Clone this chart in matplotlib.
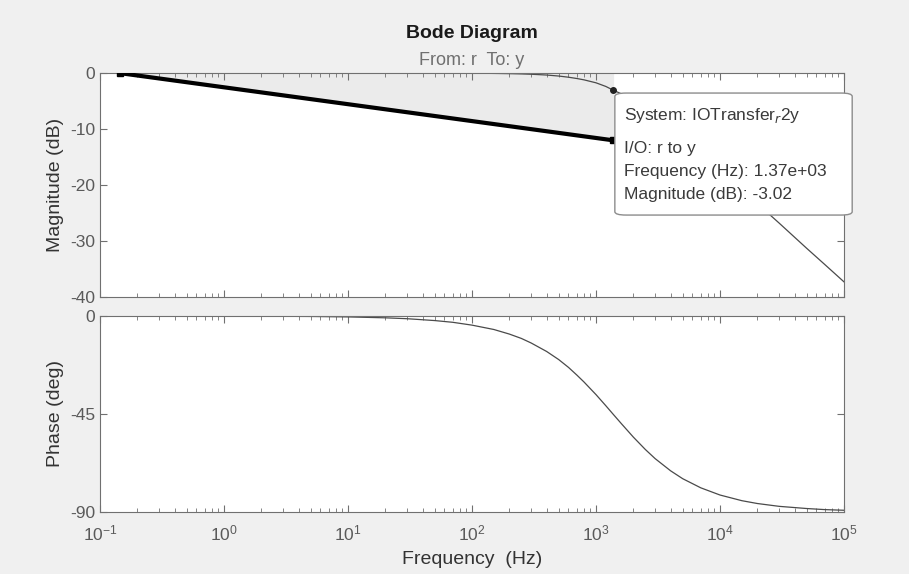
import matplotlib.pyplot as plt
from matplotlib.patches import FancyBboxPatch
from matplotlib.ticker import NullFormatter, FixedLocator

plt.rcParams['font.family'] = ['Liberation Sans', 'DejaVu Sans']
plt.rcParams['axes.unicode_minus'] = False

# frequency response
freq = [0.1, 1, 5, 10, 20, 30, 50, 70, 100, 150, 200, 250, 300, 400, 500, 600, 700, 800,
        1000, 1200, 1370, 1600, 2000, 2500, 3000, 4000, 5000, 7000, 10000, 15000, 20000,
        30000, 50000, 70000, 100000]
mag_db = [0, 0, 0, 0, 0, 0, -0.01, -0.01, -0.02, -0.05, -0.09, -0.14, -0.2, -0.34, -0.52,
          -0.73, -0.96, -1.2, -1.73, -2.38, -3.02, -3.7, -5.2, -6.7, -7.8, -10.0, -11.5,
          -14.2, -17.3, -20.8, -23.3, -26.8, -31.3, -34.2, -37.3]
phase_deg = [0, -0.04, -0.21, -0.42, -0.84, -1.25, -2.1, -2.9, -4.2, -6.2, -8.3, -10.3,
             -12.4, -16.3, -20.0, -23.6, -27.1, -30.3, -36.1, -41.2, -45.0, -49.4, -55.6,
             -61.3, -65.5, -71.1, -74.7, -78.9, -82.2, -84.8, -86.1, -87.4, -88.4, -88.9,
             -89.2]
xtick_pos = [1e-1, 1e0, 1e1, 1e2, 1e3, 1e4, 1e5]

# user-drawn line and data tip
line_f = [0.145, 1370]
line_db = [0, -12]
tip_f = 1370
tip_db = -3.02
tip_lines = ['System: IOTransfer$_r$2y', 'I/O: r to y',
             'Frequency (Hz): 1.37e+03', 'Magnitude (dB): -3.02']

bg = '#f0f0f0'
spine_c = '#707070'
tick_c = '#5a5a5a'
curve_c = '#4a4a4a'

fig = plt.figure(figsize=(9.09, 5.74), dpi=100, facecolor=bg)
ax1 = fig.add_axes([0.110, 0.4826, 0.8185, 0.390])
ax2 = fig.add_axes([0.110, 0.108, 0.8185, 0.3415])

minor_pos = [m * 10.0 ** e for e in range(-1, 5) for m in range(2, 10)]
for ax in (ax1, ax2):
    ax.set_xscale('log')
    ax.set_xlim(0.1, 1e5)
    ax.set_xticks(xtick_pos)
    ax.xaxis.set_minor_locator(FixedLocator(minor_pos))
    ax.xaxis.set_minor_formatter(NullFormatter())
    ax.tick_params(which='both', direction='in', top=True, right=True,
                   colors=spine_c, labelcolor=tick_c, labelsize=12.5)
    ax.tick_params(which='major', length=5)
    ax.tick_params(which='minor', length=3)
    ax.tick_params(axis='x', pad=8)
    for s in ax.spines.values():
        s.set_color(spine_c)

# magnitude
ax1.fill_between(line_f, line_db, [0, 0], color='#ebebeb', zorder=1)
ax1.plot(freq, mag_db, color=curve_c, lw=0.9, zorder=2)
ax1.plot(line_f, line_db, color='black', lw=3, marker='s', ms=5, zorder=3)
ax1.plot([tip_f], [tip_db], 'o', color='#222222', ms=4, zorder=4)
ax1.set_ylim(-40, 0)
ax1.set_yticks([0, -10, -20, -30, -40])
ax1.tick_params(labelbottom=False)
ax1.set_ylabel('Magnitude (dB)', fontsize=14, color='#333333', labelpad=4)

box = FancyBboxPatch((0.692, 0.366), 0.319, 0.545, boxstyle='round,pad=0,rounding_size=0.015',
                     transform=ax1.transAxes, facecolor='white', edgecolor='#8c8c8c',
                     lw=1, zorder=5, clip_on=False)
ax1.add_patch(box)
tip_y = [0.8125, 0.665, 0.562, 0.46]
for t, y in zip(tip_lines, tip_y):
    ax1.text(0.704, y, t, transform=ax1.transAxes, fontsize=12.5,
             color='#3a3a3a', va='center', ha='left', zorder=6)

# phase
ax2.plot(freq, phase_deg, color=curve_c, lw=0.9)
ax2.set_ylim(-90, 0)
ax2.set_yticks([0, -45, -90])
ax2.set_ylabel('Phase (deg)', fontsize=14, color='#333333', labelpad=4)
ax2.set_xlabel('Frequency  (Hz)', fontsize=14, color='#333333', labelpad=6)

fig.text(0.519, 0.942, 'Bode Diagram', ha='center', va='center', fontsize=14,
         fontweight='bold', color='#1a1a1a')
fig.text(0.519, 0.895, 'From: r  To: y', ha='center', va='center', fontsize=13,
         color='#707070')

fig.savefig('out.png', dpi=100, facecolor=bg)
